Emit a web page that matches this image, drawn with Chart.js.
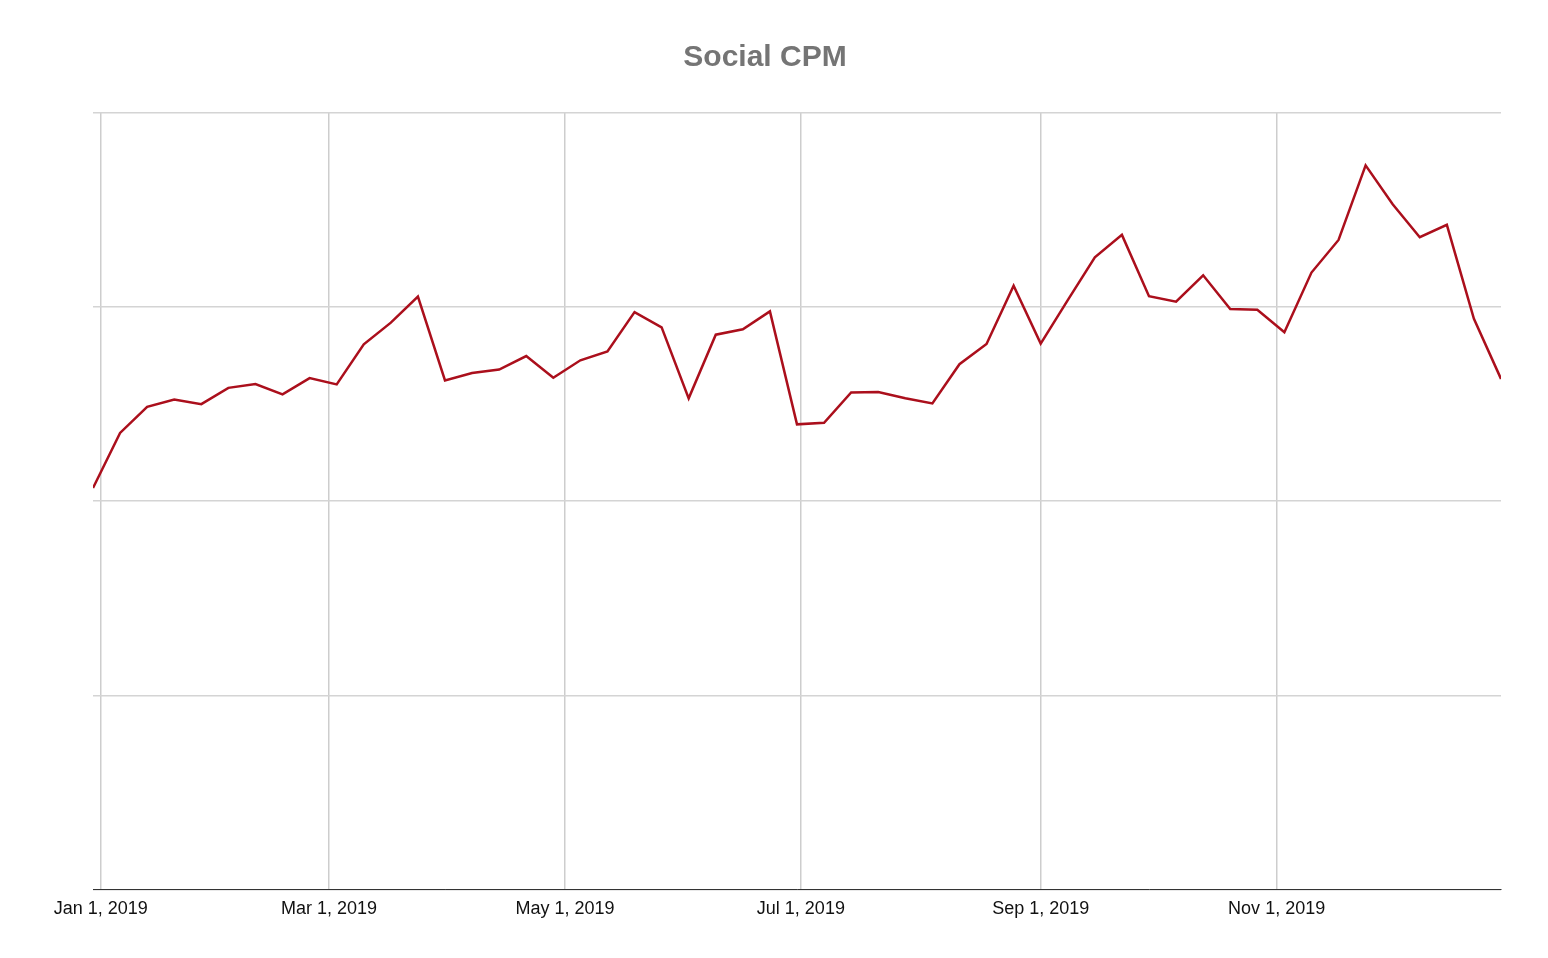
<!DOCTYPE html>
<html>
<head>
<meta charset="utf-8">
<title>Social CPM</title>
<script src="https://cdn.jsdelivr.net/npm/chart.js@4"></script>
<style>
  html, body { margin: 0; padding: 0; background: #fff; }
  #wrap { width: 1548px; height: 958px; }
</style>
</head>
<body>
<div id="wrap"><canvas id="chart"></canvas></div>
<script>
// weekly data points (week start dates)
const weeks = [
  '2018-12-30', '2019-01-06', '2019-01-13', '2019-01-20', '2019-01-27',
  '2019-02-03', '2019-02-10', '2019-02-17', '2019-02-24',
  '2019-03-03', '2019-03-10', '2019-03-17', '2019-03-24', '2019-03-31',
  '2019-04-07', '2019-04-14', '2019-04-21', '2019-04-28',
  '2019-05-05', '2019-05-12', '2019-05-19', '2019-05-26',
  '2019-06-02', '2019-06-09', '2019-06-16', '2019-06-23', '2019-06-30',
  '2019-07-07', '2019-07-14', '2019-07-21', '2019-07-28',
  '2019-08-04', '2019-08-11', '2019-08-18', '2019-08-25',
  '2019-09-01', '2019-09-08', '2019-09-15', '2019-09-22', '2019-09-29',
  '2019-10-06', '2019-10-13', '2019-10-20', '2019-10-27',
  '2019-11-03', '2019-11-10', '2019-11-17', '2019-11-24',
  '2019-12-01', '2019-12-08', '2019-12-15', '2019-12-22', '2019-12-29'
];

const cpm = [
  10.34, 11.76, 12.43, 12.62, 12.50,
  12.92, 13.02, 12.75, 13.17,
  13.01, 14.04, 14.60, 15.27, 13.11,
  13.30, 13.39, 13.74, 13.18,
  13.63, 13.86, 14.87, 14.48,
  12.65, 14.29, 14.43, 14.89, 11.98,
  12.02, 12.80, 12.81, 12.65,
  12.52, 13.53, 14.05, 15.55,
  14.06, 15.18, 16.28, 16.86, 15.28,
  15.14, 15.82, 14.95, 14.93,
  14.35, 15.89, 16.73, 18.65,
  17.65, 16.80, 17.12, 14.70, 13.15
];

const tickDates = ['2019-01-01', '2019-03-01', '2019-05-01', '2019-07-01', '2019-09-01', '2019-11-01'];
const tickLabels = ['Jan 1, 2019', 'Mar 1, 2019', 'May 1, 2019', 'Jul 1, 2019', 'Sep 1, 2019', 'Nov 1, 2019'];

const chartTitle = 'Social CPM';

// days since Jan 1, 2019 (no date adapter available, so use a linear axis)
const base = Date.parse('2019-01-01');
function dayOf(s) {
  return Math.round((Date.parse(s) - base) / 86400000);
}

const points = weeks.map((w, i) => ({ x: dayOf(w), y: cpm[i] }));
const tickDays = tickDates.map(dayOf);

// title sits a little left of the plot centre, so draw it ourselves
const titlePlugin = {
  id: 'sheetTitle',
  afterDraw(chart) {
    const c = chart.ctx;
    c.save();
    c.fillStyle = '#757575';
    c.font = 'bold 30px Arial, "Liberation Sans", sans-serif';
    c.textAlign = 'center';
    c.textBaseline = 'middle';
    c.fillText(chartTitle, 765, 58);
    c.restore();
  },
};

const ctx = document.getElementById('chart').getContext('2d');
new Chart(ctx, {
  type: 'line',
  data: {
    datasets: [
      {
        label: chartTitle,
        data: points,
        borderColor: '#ab0f1c',
        borderWidth: 2.5,
        pointRadius: 0,
        tension: 0,
        fill: false,
      },
    ],
  },
  options: {
    responsive: true,
    maintainAspectRatio: false,
    animation: false,
    layout: {
      padding: { left: 93, right: 47, top: 113, bottom: 29 },
    },
    plugins: {
      legend: { display: false },
      tooltip: { enabled: false },
      title: { display: false },
    },
    scales: {
      x: {
        type: 'linear',
        min: dayOf(weeks[0]),
        max: dayOf(weeks[weeks.length - 1]),
        afterBuildTicks: axis => {
          axis.ticks = tickDays.map(v => ({ value: v }));
        },
        grid: { color: '#cdcdcd', lineWidth: 1.5, drawTicks: false },
        border: { display: true, color: '#333333', width: 1 },
        ticks: {
          padding: 9,
          maxRotation: 0,
          autoSkip: false,
          color: '#111111',
          font: { family: 'Arial, "Liberation Sans", sans-serif', size: 18 },
          callback: value => {
            const i = tickDays.indexOf(value);
            return i >= 0 ? tickLabels[i] : '';
          },
        },
      },
      y: {
        min: 0,
        max: 20,
        grid: { color: '#d4d4d4', lineWidth: 1.5, drawTicks: false },
        border: { display: false },
        ticks: { display: false, stepSize: 5 },
      },
    },
  },
  plugins: [titlePlugin],
});
</script>
</body>
</html>
